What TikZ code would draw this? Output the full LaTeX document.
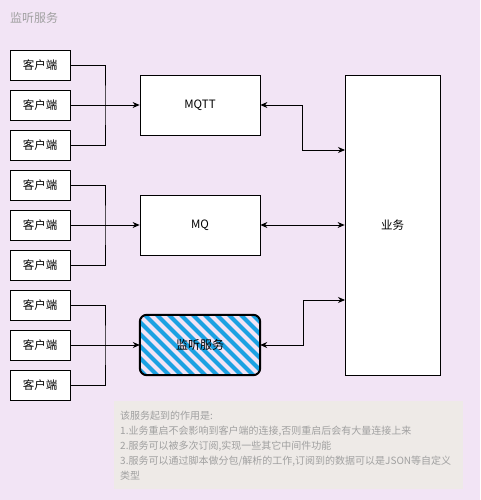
\documentclass[tikz,border=0pt]{standalone}
\usepackage{fontspec}
\setmainfont{Noto Sans CJK SC}
\usetikzlibrary{arrows.meta}
\definecolor{bgc}{HTML}{F2E4F5}
\definecolor{notec}{HTML}{EEEAE7}
\definecolor{hatchc}{HTML}{1BA1E2}
\definecolor{grayt}{HTML}{A0A0A0}
\tikzset{
  box/.style={draw=black, fill=white, line width=0.8pt, inner sep=0pt, font=\fontsize{11.5}{13}\selectfont},
  client/.style={box, minimum width=60pt, minimum height=30pt},
  mid/.style={box, minimum width=120pt, minimum height=60pt},
  conn/.style={line width=0.8pt, draw=black},
  arr/.style={conn, -{Stealth[length=7pt,width=6pt]}},
  barr/.style={conn, {Stealth[length=7pt,width=6pt]}-{Stealth[length=7pt,width=6pt]}},
}
\begin{document}
\begin{tikzpicture}[x=1pt,y=-1pt]
\useasboundingbox (0,0) rectangle (480,500);
\fill[bgc] (0,0) rectangle (480,500);
\node[anchor=west, text=grayt, font=\fontsize{12}{14}\selectfont, inner sep=0pt] (title) at (10,18) {监听服务};
% clients
\foreach \i/\y in {1/65,2/105,3/145,4/185,5/225,6/265,7/305,8/345,9/385}{
  \node[client] (c\i) at (40,\y) {客户端};
}
\node[mid] (mqtt) at (200,105) {MQTT};
\node[mid] (mq) at (200,225) {MQ};
\node[box, minimum width=95pt, minimum height=300pt] (biz) at (392.5,225) {业务};
% hatched monitor box
\node[minimum width=120pt, minimum height=60pt, inner sep=0pt] (mon) at (200,345) {};
\begin{scope}
  \clip[rounded corners=7pt] (mon.north west) rectangle (mon.south east);
  \foreach \k in {-84,-72,...,132}{
    \draw[hatchc, line width=4pt] (140+\k,310) -- (140+\k+70,380);
  }
\end{scope}
\draw[black, line width=2pt, rounded corners=7pt] (mon.north west) rectangle (mon.south east);
\node[font=\fontsize{12}{14}\selectfont] at (mon) {监听服务};
% junctions
\coordinate (j1) at (105,105);
\coordinate (j2) at (105,225);
\coordinate (j3) at (105,345);
\draw[conn] (c1.east) -| (j1) |- (c3.east);
\draw[arr] (c2.east) -- (mqtt.west);
\draw[conn] (c4.east) -| (j2) |- (c6.east);
\draw[arr] (c5.east) -- (mq.west);
\draw[conn] (c7.east) -| (j3) |- (c9.east);
\draw[arr] (c8.east) -- (mon.west);
% business links
\coordinate (b1) at (345,150);
\coordinate (b3) at (345,300);
\draw[barr] (mqtt.east) -- ++(42,0) |- (b1);
\draw[barr] (mq.east) -- (biz.west |- mq.east);
\draw[barr] (mon.east) -- ++(43,0) |- (b3);
% note
\fill[notec] (114,401) rectangle (463,489);
\node[anchor=north west, align=left, text=grayt, font=\fontsize{10}{15}\selectfont, inner sep=0pt] (note) at (120,411) {该服务起到的作用是:\\1.业务重启不会影响到客户端的连接,否则重启后会有大量连接上来\\2.服务可以被多次订阅,实现一些其它中间件功能\\3.服务可以通过脚本做分包/解析的工作,订阅到的数据可以是JSON等自定义\\类型};
\end{tikzpicture}
\end{document}
